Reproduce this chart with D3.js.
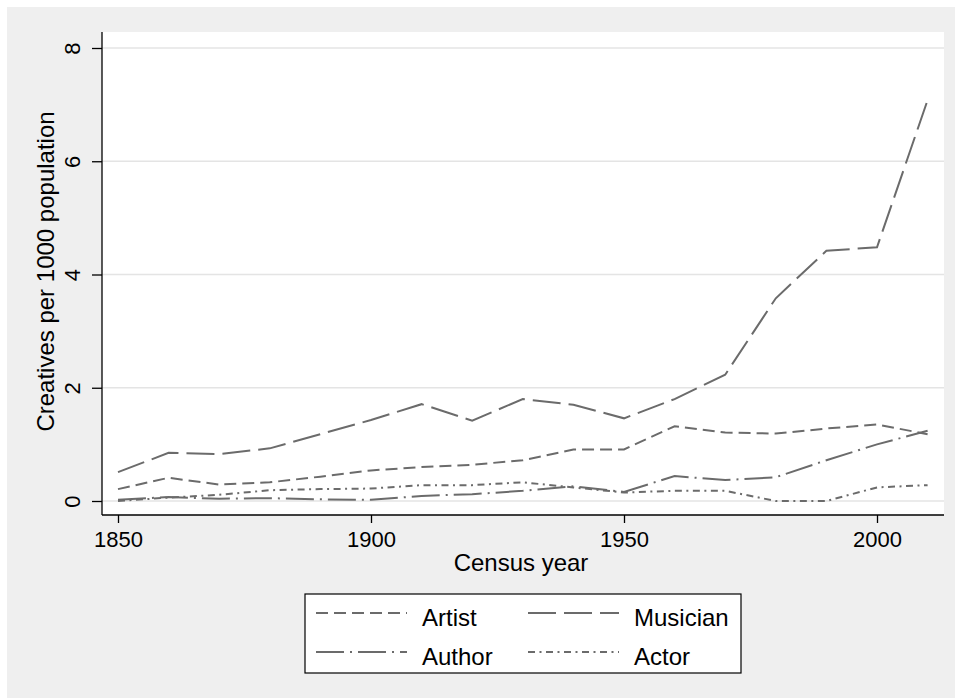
<!DOCTYPE html>
<html>
<head>
<meta charset="utf-8">
<script src="https://cdn.jsdelivr.net/npm/d3@7"></script>
<style>
  html, body { margin: 0; padding: 0; background: #ffffff; }
  svg { display: block; }
  text { font-family: "Liberation Sans", Arial, sans-serif; fill: #000; }
</style>
</head>
<body>
<script>
// ---- data ----
const years = [1850, 1860, 1870, 1880, 1890, 1900, 1910, 1920, 1930, 1940, 1950, 1960, 1970, 1980, 1990, 2000, 2010];
const artist   = [0.21, 0.41, 0.29, 0.33, 0.43, 0.54, 0.60, 0.64, 0.72, 0.91, 0.91, 1.32, 1.21, 1.19, 1.28, 1.35, 1.18];
const musician = [0.51, 0.85, 0.83, 0.93, 1.18, 1.43, 1.71, 1.42, 1.80, 1.70, 1.46, 1.80, 2.23, 3.58, 4.42, 4.48, 7.08];
const author   = [0.02, 0.07, 0.04, 0.05, 0.03, 0.02, 0.09, 0.12, 0.18, 0.26, 0.16, 0.44, 0.37, 0.42, 0.72, 1.00, 1.24];
const actor    = [0.00, 0.06, 0.11, 0.19, 0.21, 0.22, 0.28, 0.28, 0.33, 0.24, 0.15, 0.18, 0.18, 0.00, 0.00, 0.24, 0.28];
const seriesNames = ["Artist", "Musician", "Author", "Actor"];
const xTicks = [1850, 1900, 1950, 2000];
const yTicks = [0, 2, 4, 6, 8];
const xTitle = "Census year";
const yTitle = "Creatives per 1000 population";

const W = 955, H = 698;
const plot = { left: 102, right: 944, top: 32, bottom: 515 };
const lineColor = "#6b6b6b";
const dashes = { Artist: "12,6", Musician: "28,8", Author: "28,6,2,6", Actor: "7,4.5,2,4.5" };
const seriesData = { Artist: artist, Musician: musician, Author: author, Actor: actor };

const svg = d3.select("body").append("svg").attr("width", W).attr("height", H);

// graph region
svg.append("rect").attr("x", 7).attr("y", 7).attr("width", W - 7).attr("height", H - 7).attr("fill", "#efefef");
// plot region
svg.append("rect").attr("x", plot.left).attr("y", plot.top)
  .attr("width", plot.right - plot.left).attr("height", plot.bottom - plot.top).attr("fill", "#ffffff");

const x = d3.scaleLinear().domain([1850, 2000]).range([118, 877]);
const y = d3.scaleLinear().domain([0, 8]).range([501, 48]);

// gridlines
svg.append("g").selectAll("line").data(yTicks).join("line")
  .attr("x1", plot.left).attr("x2", plot.right)
  .attr("y1", d => y(d)).attr("y2", d => y(d))
  .attr("stroke", "#e4e4e4").attr("stroke-width", 1.3);

// lines
const lineGen = (vals) => d3.line().x((d, i) => x(years[i])).y(d => y(d))(vals);
seriesNames.forEach(name => {
  svg.append("path").attr("d", lineGen(seriesData[name]))
    .attr("fill", "none").attr("stroke", lineColor).attr("stroke-width", 2)
    .attr("stroke-dasharray", dashes[name]).attr("stroke-linejoin", "miter");
});

const tickFont = "22px";
const titleFont = "24px";

// y axis
const yAxis = svg.append("g").attr("transform", `translate(${plot.left},0)`)
  .call(d3.axisLeft(y).tickValues(yTicks).tickSize(10).tickSizeOuter(0).tickFormat(d3.format("d")));
yAxis.select(".domain").attr("d", `M0,${plot.top}V${plot.bottom}`).attr("stroke", "#000").attr("stroke-width", 1.3);
yAxis.selectAll(".tick line").attr("stroke", "#000").attr("stroke-width", 1.3);
yAxis.selectAll(".tick text")
  .attr("x", 0).attr("y", 0).attr("dy", null)
  .attr("transform", "translate(-22,0) rotate(-90)")
  .attr("text-anchor", "middle")
  .style("font-size", tickFont).style("font-family", "'Liberation Sans', Arial, sans-serif").attr("fill", "#000");

// x axis
const xAxis = svg.append("g").attr("transform", `translate(0,${plot.bottom})`)
  .call(d3.axisBottom(x).tickValues(xTicks).tickSize(8).tickSizeOuter(0).tickFormat(d3.format("d")));
xAxis.select(".domain").attr("d", `M${plot.left},0H${plot.right}`).attr("stroke", "#000").attr("stroke-width", 1.3);
xAxis.selectAll(".tick line").attr("stroke", "#000").attr("stroke-width", 1.3);
xAxis.selectAll(".tick text").attr("y", 32).attr("dy", null)
  .style("font-size", tickFont).style("font-family", "'Liberation Sans', Arial, sans-serif").attr("fill", "#000");

// axis titles
svg.append("text").attr("x", (plot.left + plot.right) / 2 - 2).attr("y", 571)
  .attr("text-anchor", "middle").style("font-size", titleFont).text(xTitle);
svg.append("text").attr("transform", `translate(54,${(plot.top + plot.bottom) / 2 - 2}) rotate(-90)`)
  .attr("text-anchor", "middle").style("font-size", titleFont).text(yTitle);

// legend
const lg = svg.append("g");
lg.append("rect").attr("x", 305).attr("y", 594).attr("width", 436).attr("height", 79)
  .attr("fill", "#fff").attr("stroke", "#000").attr("stroke-width", 1.2);
const legendItems = [
  { name: "Artist", col: 0, row: 0 },
  { name: "Musician", col: 1, row: 0 },
  { name: "Author", col: 0, row: 1 },
  { name: "Actor", col: 1, row: 1 }
];
const colX = [316, 528];
const rowY = [613, 652];
legendItems.forEach(it => {
  const lx = colX[it.col], ly = rowY[it.row];
  lg.append("line").attr("x1", lx).attr("x2", lx + 91).attr("y1", ly).attr("y2", ly)
    .attr("stroke", lineColor).attr("stroke-width", 2).attr("stroke-dasharray", dashes[it.name]);
  lg.append("text").attr("x", lx + 106).attr("y", ly + 13).style("font-size", titleFont).text(it.name);
});
</script>
</body>
</html>
